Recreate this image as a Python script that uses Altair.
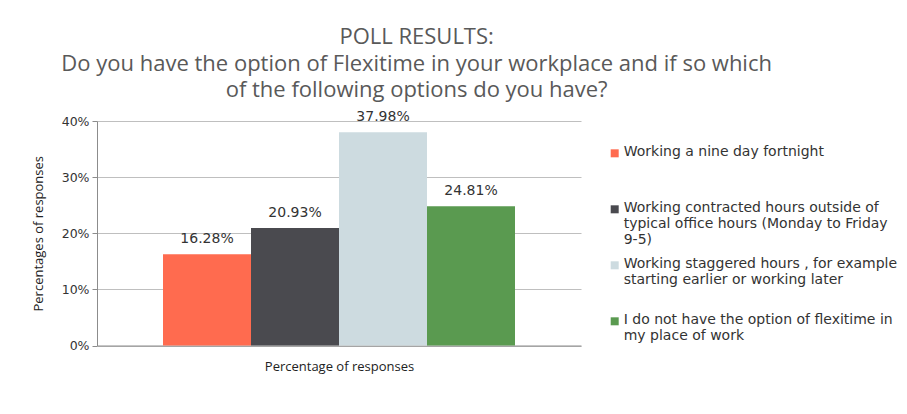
import altair as alt
import pandas as pd

categories = [
    "Working a nine day fortnight",
    "Working contracted hours outside of typical office hours (Monday to Friday 9-5)",
    "Working staggered hours , for example starting earlier or working later",
    "I do not have the option of flexitime in my place of work",
]
legend_lines = [
    "Working a nine day fortnight",
    "Working contracted hours outside of\ntypical office hours (Monday to Friday\n9-5)",
    "Working staggered hours , for example\nstarting earlier or working later",
    "I do not have the option of flexitime in\nmy place of work",
]
values = [0.1628, 0.2093, 0.3798, 0.2481]
labels = ["16.28%", "20.93%", "37.98%", "24.81%"]
colors = ["#FF6B4F", "#4A4A4F", "#CDDBE0", "#5A9A50"]
order = [0, 1, 2, 3]

df = pd.DataFrame({
    "category": categories,
    "value": values,
    "label": labels,
    "legend": legend_lines,
    "idx": order,
})

color_scale = alt.Scale(domain=categories, range=colors)
no_stroke = alt.ViewBackground(strokeWidth=0, stroke="transparent")

base = alt.Chart(df).encode(
    x=alt.X(
        "category:N",
        sort=categories,
        scale=alt.Scale(paddingInner=0, paddingOuter=0.75),
        axis=alt.Axis(
            title="Percentage of responses",
            labels=False,
            ticks=False,
            grid=False,
            domainColor="#8C8C8C",
            titleFont="Open Sans",
            titleFontSize=13,
            titleFontWeight="normal",
            titleColor="#222222",
            titlePadding=15,
        ),
    ),
    y=alt.Y(
        "value:Q",
        scale=alt.Scale(domain=[0, 0.4]),
        axis=alt.Axis(
            title="Percentages of responses",
            format=".0%",
            values=[0, 0.1, 0.2, 0.3, 0.4],
            gridColor="#BFBFBF",
            domainColor="#8C8C8C",
            tickColor="#8C8C8C",
            tickSize=5,
            labelFont="DejaVu Sans",
            labelFontSize=12.5,
            labelColor="#333333",
            labelPadding=3,
            titleFont="Open Sans",
            titleFontSize=13,
            titleFontWeight="normal",
            titleColor="#222222",
            titlePadding=16,
        ),
    ),
)

bars = base.mark_bar().encode(
    color=alt.Color("category:N", scale=color_scale, legend=None)
)
text = base.mark_text(
    baseline="alphabetic", dy=-11, font="DejaVu Sans", fontSize=14, color="#333333"
).encode(text="label:N")

main = (bars + text).properties(width=484, height=224.5, view=no_stroke)

leg_base = alt.Chart(df).encode(
    y=alt.Y(
        "idx:Q",
        scale=alt.Scale(domain=[-0.577, 3.432], reverse=True),
        axis=None,
    )
)
leg_sym = leg_base.mark_square(size=64, opacity=1).encode(
    x=alt.value(5),
    color=alt.Color("category:N", scale=color_scale, legend=None),
)
leg_txt = leg_base.mark_text(
    align="left",
    baseline="top",
    dy=-8,
    lineBreak="\n",
    lineHeight=15.8,
    font="DejaVu Sans",
    fontSize=14,
    color="#333333",
).encode(x=alt.value(14), text="legend:N")

legend = (leg_sym + leg_txt).properties(width=280, height=224.5, view=no_stroke)

chart = (
    alt.hconcat(main, legend, spacing=28.7)
    .properties(
        title=alt.TitleParams(
            text=[
                "POLL RESULTS:",
                "Do you have the option of Flexitime in your workplace and if so which",
                "of the following options do you have?",
            ],
            anchor="middle",
            font="Open Sans",
            fontSize=22,
            fontWeight="normal",
            color="#595959",
            lineHeight=26.5,
            offset=8,
            dx=-48,
        ),
        padding={"left": 32, "top": 26, "right": 5, "bottom": 5},
    )
    .configure_view(strokeWidth=0, stroke="transparent")
    .configure(background="white")
)

chart.save("out.html", embed_options={"renderer": "svg", "actions": False})
